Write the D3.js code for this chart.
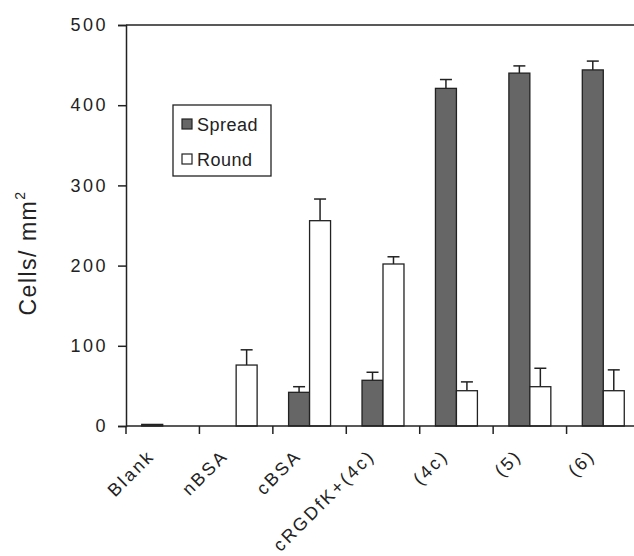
<!DOCTYPE html>
<html>
<head>
<meta charset="utf-8">
<script src="https://cdn.jsdelivr.net/npm/d3@7"></script>
<style>
  body { margin: 0; background: #fff; }
  text { font-family: "Liberation Sans", Arial, sans-serif; fill: #222; }
</style>
</head>
<body>
<svg id="chart" width="634" height="556"></svg>
<script>
// data
var categories = ["Blank", "nBSA", "cBSA", "cRGDfK+(4c)", "(4c)", "(5)", "(6)"];
var seriesNames = ["Spread", "Round"];
var spread = [2, 0, 42, 57, 421, 440, 444];
var spreadErr = [0, 0, 7, 10, 11, 9, 11];
var round = [0, 76, 256, 202, 44, 49, 44];
var roundErr = [0, 19, 27, 9, 11, 23, 26];
var yTicks = [0, 100, 200, 300, 400, 500];

var colours = { Spread: "#666666", Round: "#ffffff" };

var svg = d3.select("#chart");

// plot box (note: "top" is taken by window.top)
var plotL = 126, plotT = 25, plotB = 426, plotR = 640;

var x = d3.scaleBand()
    .domain(categories)
    .range([plotL, plotR]);

var inner = d3.scaleBand()
    .domain(seriesNames)
    .range([0, x.bandwidth()])
    .paddingInner(0)
    .paddingOuter(0.75);

var y = d3.scaleLinear()
    .domain([0, 500])
    .range([plotB, plotT]);

// top frame line
svg.append("line")
    .attr("x1", plotL).attr("x2", 634)
    .attr("y1", y(500)).attr("y2", y(500))
    .attr("stroke", "#222").attr("stroke-width", 1.5);

// rows for bars
var rows = [];
categories.forEach(function(c, i) {
  rows.push({ cat: c, s: "Spread", v: spread[i], e: spreadErr[i] });
  rows.push({ cat: c, s: "Round", v: round[i], e: roundErr[i] });
});
var shown = rows.filter(function(d) { return d.v > 0; });

// error bars (up only)
var err = svg.append("g");
shown.filter(function(d) { return d.e > 0; }).forEach(function(d) {
  var cx = x(d.cat) + inner(d.s) + inner.bandwidth() / 2;
  err.append("line")
      .attr("x1", cx).attr("x2", cx)
      .attr("y1", y(d.v)).attr("y2", y(d.v + d.e))
      .attr("stroke", "#222").attr("stroke-width", 1.5);
  err.append("line")
      .attr("x1", cx - 6).attr("x2", cx + 6)
      .attr("y1", y(d.v + d.e)).attr("y2", y(d.v + d.e))
      .attr("stroke", "#222").attr("stroke-width", 1.5);
});

svg.append("g").selectAll("rect")
    .data(shown)
    .enter()
    .append("rect")
    .attr("x", function(d) { return x(d.cat) + inner(d.s); })
    .attr("y", function(d) { return y(d.v); })
    .attr("width", inner.bandwidth())
    .attr("height", function(d) { return y(0) - y(d.v); })
    .attr("fill", function(d) { return colours[d.s]; })
    .attr("stroke", "#222")
    .attr("stroke-width", 1.3);

// y axis
var yAxis = svg.append("g")
    .attr("transform", "translate(" + plotL + ",0)")
    .call(d3.axisLeft(y).tickValues(yTicks).tickSize(8).tickPadding(10));
yAxis.select(".domain").attr("stroke", "#222").attr("stroke-width", 1.5);
yAxis.selectAll(".tick line").attr("stroke", "#222").attr("stroke-width", 1.5);
yAxis.selectAll(".tick text")
    .style("font-size", "18px")
    .style("letter-spacing", "2.5px")
    .attr("fill", "#222")
    .attr("font-family", null);

// x axis (ticks between categories)
var xAxis = svg.append("g")
    .attr("transform", "translate(0," + plotB + ")");
xAxis.append("line")
    .attr("x1", plotL).attr("x2", 634)
    .attr("stroke", "#222").attr("stroke-width", 1.5);
xAxis.selectAll("line.tk")
    .data(categories)
    .enter()
    .append("line")
    .attr("class", "tk")
    .attr("x1", function(d) { return x(d); })
    .attr("x2", function(d) { return x(d); })
    .attr("y1", 0).attr("y2", 8)
    .attr("stroke", "#222").attr("stroke-width", 1.5);
xAxis.selectAll("text")
    .data(categories)
    .enter()
    .append("text")
    .attr("transform", function(d) {
      var cx = x(d) + x.bandwidth() / 2 - 7;
      return "translate(" + cx + ",31) rotate(-45)";
    })
    .attr("text-anchor", "end")
    .style("font-size", "18px")
    .style("letter-spacing", "2.5px")
    .text(function(d) { return d; });

// y label
var yl = svg.append("text")
    .attr("transform", "translate(36,253) rotate(-90)")
    .attr("text-anchor", "middle")
    .style("font-size", "23px")
    .style("letter-spacing", "1.5px");
yl.append("tspan").text("Cells/ mm");
yl.append("tspan").attr("dy", -11).style("font-size", "14px").text("2");

// legend
var lg = svg.append("g").attr("transform", "translate(173,105)");
lg.append("rect")
    .attr("width", 98).attr("height", 71)
    .attr("fill", "#fff").attr("stroke", "#222").attr("stroke-width", 1.3);
seriesNames.forEach(function(s, i) {
  var yy = 20 + i * 35;
  lg.append("rect")
      .attr("x", 9).attr("y", yy - 6)
      .attr("width", 10).attr("height", 10)
      .attr("fill", colours[s]).attr("stroke", "#222").attr("stroke-width", 1.2);
  lg.append("text")
      .attr("x", 24).attr("y", yy + 6)
      .style("font-size", "18px")
      .style("letter-spacing", "0.5px")
      .text(s);
});
</script>
</body>
</html>
